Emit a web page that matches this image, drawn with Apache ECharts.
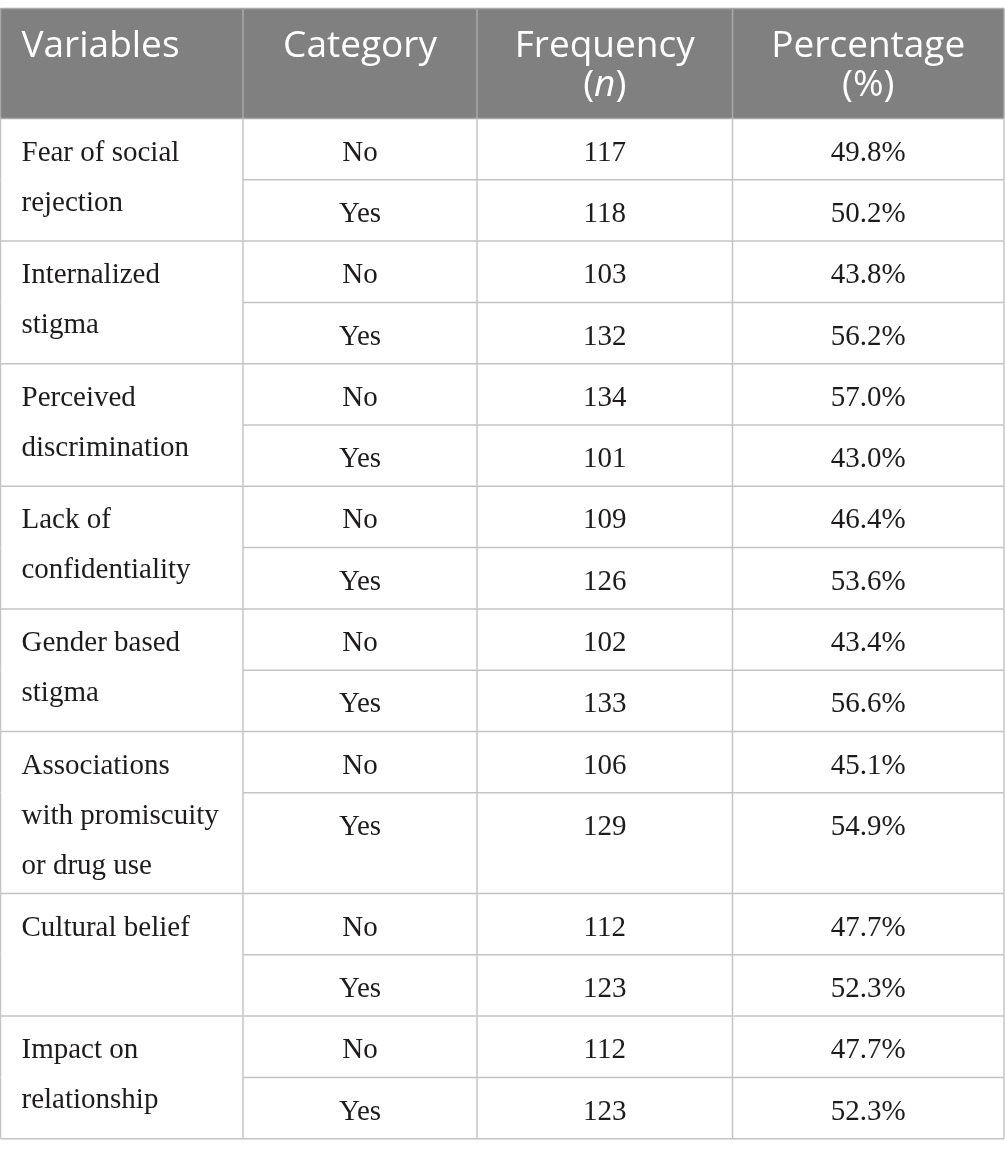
<!DOCTYPE html>
<html><head><meta charset="utf-8">
<script src="https://cdn.jsdelivr.net/npm/echarts@6/dist/echarts.min.js"></script>
<style>html,body{margin:0;padding:0;background:#fff}#c{width:1005px;height:1158px}</style>
</head><body><div id="c"></div>
<script>
// ---- data ----
const headers = ['Variables', 'Category', 'Frequency\n({i|n})', 'Percentage\n(%)'];
const variables = [
  'Fear of social\nrejection',
  'Internalized\nstigma',
  'Perceived\ndiscrimination',
  'Lack of\nconfidentiality',
  'Gender based\nstigma',
  'Associations\nwith promiscuity\nor drug use',
  'Cultural belief',
  'Impact on\nrelationship'
];
const categories = ['No', 'Yes'];
const frequency = [[117, 118], [103, 132], [134, 101], [109, 126], [102, 133], [106, 129], [112, 123], [112, 123]];
const percentage = [[49.8, 50.2], [43.8, 56.2], [57.0, 43.0], [46.4, 53.6], [43.4, 56.6], [45.1, 54.9], [47.7, 52.3], [47.7, 52.3]];

// ---- layout ----
const W = 1005, H = 1158;
const colEdges = [0.5, 243, 477, 732.5, 1004];
const tableTop = 8.5, headerBottom = 118.5, rowH = 61.3, lineH = 50, padTop = 34.5, padX = 21;
const lineColor = '#c4c4c4', headerBg = '#7f807f', textColor = '#1e1b1c';
const serif = "'Liberation Serif', serif", sans = "'Open Sans', sans-serif";
const bodySize = 29, headSize = 37;

const rows = [];
let yy = headerBottom;
variables.forEach((v, g) => {
  const nLines = v.split('\n').length;
  const groupH = Math.max(2 * rowH, nLines * lineH + 12);
  categories.forEach((c, k) => {
    const h = k === 0 ? rowH : groupH - rowH;
    rows.push({ value: [yy, yy + h, g, k] });
    yy += h;
  });
});

function lineEl(a, b, color, w) {
  return { type: 'line', shape: { x1: a[0], y1: a[1], x2: b[0], y2: b[1] }, style: { stroke: color, lineWidth: w || 1.5 } };
}
function textEl(t, x, y, align, font, color, rich) {
  const s = { text: t, x: x, y: y, textAlign: align, textVerticalAlign: 'middle', font: font, fill: color };
  if (rich) s.rich = rich;
  return { type: 'text', style: s };
}

function renderHeader(params, api) {
  const i = api.value(0);
  const p = (x, y) => api.coord([x, y]);
  const tl = p(colEdges[i], tableTop), br = p(colEdges[i + 1], headerBottom);
  const ch = [];
  ch.push({ type: 'rect', shape: { x: tl[0], y: tl[1], width: br[0] - tl[0], height: br[1] - tl[1] }, style: { fill: headerBg } });
  ch.push(lineEl(p(colEdges[i], tableTop), p(colEdges[i + 1], tableTop), '#a9a9a9'));
  ch.push(lineEl(p(colEdges[i], headerBottom), p(colEdges[i + 1], headerBottom), '#a9a9a9'));
  ch.push(lineEl(p(colEdges[i], tableTop), p(colEdges[i], headerBottom), '#a9a9a9'));
  if (i === 3) ch.push(lineEl(p(colEdges[4], tableTop), p(colEdges[4], headerBottom), '#a9a9a9'));
  const lines = headers[i].split('\n');
  const font = headSize + 'px ' + sans;
  lines.forEach((ln, j) => {
    const x = i === 0 ? colEdges[0] + padX : (colEdges[i] + colEdges[i + 1]) / 2;
    const pt = p(x, tableTop + 38 + j * 39);
    ch.push(textEl(ln, pt[0], pt[1], i === 0 ? 'left' : 'center', font, '#ffffff',
      { i: { fontStyle: 'italic', fontSize: headSize, fontFamily: sans, fill: '#ffffff' } }));
  });
  return { type: 'group', children: ch };
}

function renderRow(params, api) {
  const y0 = api.value(0), y1 = api.value(1), g = api.value(2), k = api.value(3);
  const p = (x, y) => api.coord([x, y]);
  const ch = [];
  const xs = k === 1 ? colEdges[0] : colEdges[1];
  ch.push(lineEl(p(xs, y1), p(colEdges[4], y1), lineColor));
  colEdges.forEach(x => ch.push(lineEl(p(x, y0), p(x, y1), lineColor)));
  const font = bodySize + 'px ' + serif;
  if (k === 0) {
    variables[g].split('\n').forEach((ln, j) => {
      const pt = p(colEdges[0] + padX, y0 + padTop + j * lineH);
      ch.push(textEl(ln, pt[0], pt[1], 'left', font, textColor));
    });
  }
  const vals = [categories[k], String(frequency[g][k]), percentage[g][k].toFixed(1) + '%'];
  vals.forEach((v, c) => {
    const pt = p((colEdges[c + 1] + colEdges[c + 2]) / 2, y0 + padTop);
    ch.push(textEl(v, pt[0], pt[1], 'center', font, textColor));
  });
  return { type: 'group', children: ch };
}

const chart = echarts.init(document.getElementById('c'), null, { renderer: 'canvas' });
chart.setOption({
  animation: false,
  backgroundColor: '#ffffff',
  grid: { left: 0, right: 0, top: 0, bottom: 0 },
  xAxis: { type: 'value', min: 0, max: W, show: false },
  yAxis: { type: 'value', min: 0, max: H, inverse: true, show: false },
  series: [
    { type: 'custom', silent: true, clip: false, renderItem: renderHeader, data: headers.map((h, i) => ({ value: [i] })), encode: { x: -1, y: -1 } },
    { type: 'custom', silent: true, clip: false, renderItem: renderRow, data: rows, encode: { x: -1, y: -1 } }
  ]
});
</script></body></html>
